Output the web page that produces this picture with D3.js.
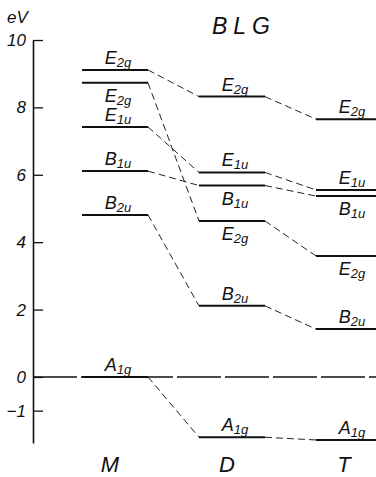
<!DOCTYPE html>
<html>
<head>
<meta charset="utf-8">
<script src="https://cdn.jsdelivr.net/npm/d3@7"></script>
<style>
  html, body { margin: 0; padding: 0; background: #fff; }
  svg { display: block; }
  text { font-family: "Liberation Sans", "DejaVu Sans", sans-serif; font-style: italic; fill: #111; }
</style>
</head>
<body>
<svg id="chart" width="376" height="477"></svg>
<script>
// ---- data ----
const categories = ["M", "D", "T"];
const symmetryMain = ["E", "E", "E", "B", "B", "A"];
const symmetrySub  = ["2g", "2g", "1u", "1u", "2u", "1g"];
const energyM = [9.11, 8.73, 7.42, 6.11, 4.81, 0.00];
const energyD = [8.32, 4.63, 6.07, 5.68, 2.11, -1.79];
const energyT = [7.65, 3.59, 5.55, 5.37, 1.42, -1.87];
const tickValues = [10, 8, 6, 4, 2, 0, -1];
const tickLabels = ["10", "8", "6", "4", "2", "0", "\u22121"];
const title = "BLG";
const unit = "eV";

// ---- layout ----
const svg = d3.select("#chart");
const axisX = 33;
const y = d3.scaleLinear().domain([-1.96, 10]).range([443, 40]);
const x = d3.scalePoint().domain(categories).range([115, 349]);
const halfW = 33;
const energies = [energyM, energyD, energyT];
// label side: +1 below, -1 above  (per track, per column)
const side = [
  [-1, -1, -1],
  [ 1,  1,  1],
  [-1, -1, -1],
  [-1,  1,  1],
  [-1, -1, -1],
  [-1, -1, -1]
];

// axis
const axis = d3.axisLeft(y)
  .tickValues(tickValues)
  .tickFormat((d, i) => tickLabels[i])
  .tickSizeInner(-10)
  .tickSizeOuter(0)
  .tickPadding(7);
const gAxis = svg.append("g").attr("transform", `translate(${axisX},0)`).call(axis);
gAxis.select(".domain").attr("stroke", "#111").attr("stroke-width", 1.6);
gAxis.selectAll(".tick line").attr("stroke", "#111").attr("stroke-width", 1.3);
gAxis.selectAll(".tick text")
  .attr("font-size", 17).attr("font-style", "italic")
  .attr("font-family", "Liberation Sans, DejaVu Sans, sans-serif")
  .attr("fill", "#111");

// unit label
svg.append("text").attr("x", 7).attr("y", 23).attr("font-size", 17).text(unit);

// title
svg.append("text").attr("x", 244).attr("y", 34).attr("text-anchor", "middle")
  .attr("font-size", 23).attr("letter-spacing", 6).text(title);

// zero reference line (long dashes)
svg.append("line")
  .attr("x1", axisX).attr("x2", 376)
  .attr("y1", y(0)).attr("y2", y(0))
  .attr("stroke", "#111").attr("stroke-width", 1.6)
  .attr("stroke-dasharray", "44,4");

// connecting dashed lines
const gConn = svg.append("g");
symmetryMain.forEach((s, t) => {
  for (let c = 0; c < categories.length - 1; c++) {
    gConn.append("line")
      .attr("x1", x(categories[c]) + halfW)
      .attr("y1", y(energies[c][t]))
      .attr("x2", x(categories[c + 1]) - halfW)
      .attr("y2", y(energies[c + 1][t]))
      .attr("stroke", "#222").attr("stroke-width", 1)
      .attr("stroke-dasharray", "7,4");
  }
});

// levels
const gLev = svg.append("g");
symmetryMain.forEach((s, t) => {
  categories.forEach((cat, c) => {
    gLev.append("line")
      .attr("x1", x(cat) - halfW).attr("x2", x(cat) + halfW)
      .attr("y1", y(energies[c][t])).attr("y2", y(energies[c][t]))
      .attr("stroke", "#111").attr("stroke-width", 2);
    const ly = y(energies[c][t]) + (side[t][c] > 0 ? 19 : -6);
    const txt = gLev.append("text")
      .attr("x", x(cat) + 3).attr("y", ly)
      .attr("text-anchor", "middle").attr("font-size", 18);
    txt.append("tspan").text(s);
    txt.append("tspan").attr("font-size", 13).attr("dy", 3).text(symmetrySub[t]);
  });
});

// category labels
svg.selectAll("text.cat").data(categories).enter().append("text")
  .attr("class", "cat")
  .attr("x", d => x(d) - 5).attr("y", 472)
  .attr("text-anchor", "middle").attr("font-size", 22)
  .text(d => d);
</script>
</body>
</html>
